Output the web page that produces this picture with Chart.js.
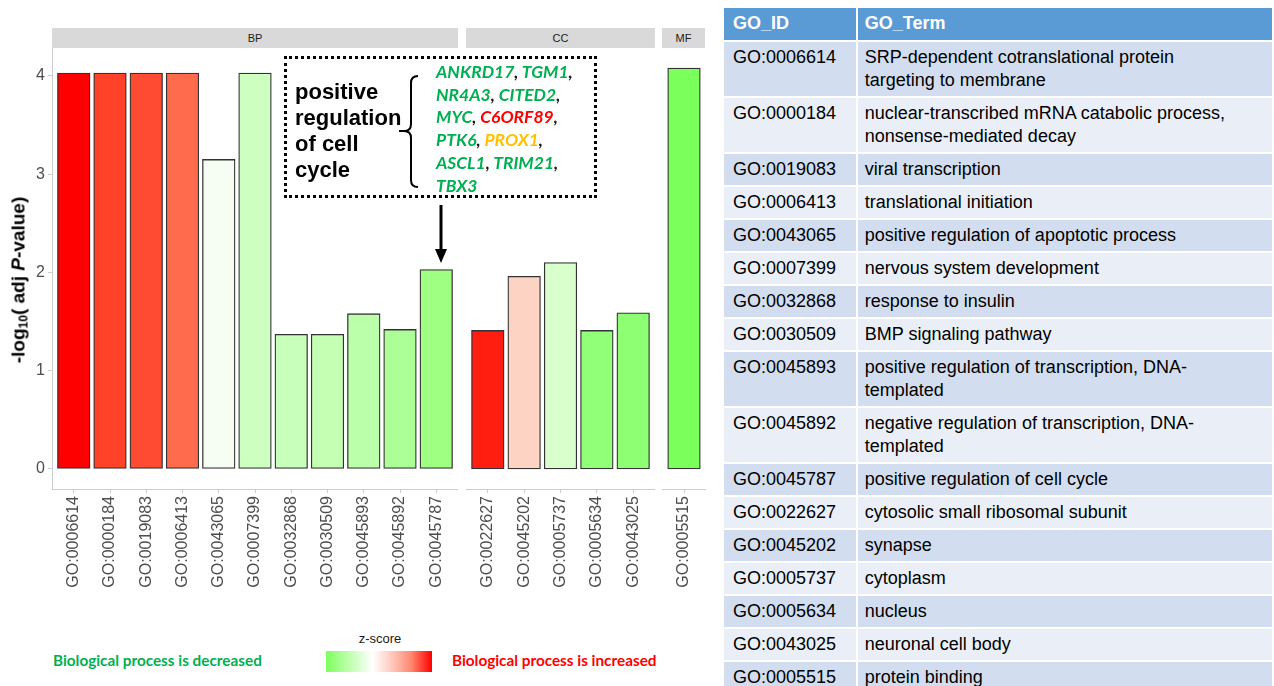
<!DOCTYPE html>
<html>
<head>
<meta charset="utf-8">
<script src="https://cdn.jsdelivr.net/npm/chart.js@4.4.0/dist/chart.umd.min.js"></script>
<style>
  body { margin: 0; width: 1274px; height: 686px; background: #fff; position: relative; overflow: hidden;
         font-family: Arial, "Liberation Sans", sans-serif; }
  .panel { position: absolute; top: 48px; }
  .strip { position: absolute; top: 28px; height: 20px; line-height: 20px; background: #d9d9d9;
           font-size: 11px; color: #1a1a1a; text-align: center; }
  #ytitle { position: absolute; left: 19px; top: 280px; transform: translate(-50%, -50%) rotate(-90deg);
            white-space: nowrap; font-weight: bold; font-size: 19px; color: #000; }
  #ytitle sub { font-size: 12px; vertical-align: -3px; }
  #note { position: absolute; left: 284px; top: 56px; width: 307px; height: 136px; border: 3px dotted #000; }
  #noteTitle { position: absolute; left: 295px; top: 79px; font-weight: bold; font-size: 22px; line-height: 26px; color: #000; }
  #genes { position: absolute; left: 436px; top: 61px; font-family: Lato, sans-serif; font-weight: bold;
           font-style: italic; font-size: 17.5px; line-height: 22.7px; color: #1a1a1a; white-space: nowrap; }
  .g { color: #00b050; } .r { color: #ff0000; } .o { color: #ffc000; }
  .legtext { position: absolute; top: 651px; font-family: Lato, sans-serif; font-weight: bold; font-size: 15.3px;
             white-space: nowrap; }
  #ztitle { position: absolute; left: 380px; top: 631px; transform: translateX(-50%); font-size: 13px; color: #1a1a1a; }
  #zbar { position: absolute; left: 326px; top: 651px; width: 106px; height: 21px;
          background: linear-gradient(to right, #7dff5e 0%, #b9ffa6 20%, #ffffff 44%, #ffc9bd 62%, #ff8a72 80%, #ff0000 100%); }
  table { position: absolute; left: 724px; top: 8px; border-collapse: collapse; font-size: 18px; color: #000; }
  td, th { padding: 4px 8px; line-height: 23px; vertical-align: top; text-align: left; white-space: nowrap;
           border-bottom: 2px solid #fff; border-right: 2px solid #fff; }
  th { background: #5b9bd5; color: #fff; font-weight: bold; height: 24px; }
  tr.d td { background: #d2deef; }
  tr.l td { background: #eaeff7; }
  td.id { width: 121px; padding-left: 9px; }
  td.term { width: 420px; padding-left: 7px; }
</style>
</head>
<body>

<div class="strip" style="left:52px; width:406px;">BP</div>
<div class="strip" style="left:466px; width:189px;">CC</div>
<div class="strip" style="left:662px; width:43px;">MF</div>

<div class="panel" style="left:0px;"><canvas id="bp" width="458" height="552"></canvas></div>
<div class="panel" style="left:466px;"><canvas id="cc" width="189" height="552"></canvas></div>
<div class="panel" style="left:662px;"><canvas id="mf" width="44" height="552"></canvas></div>

<div id="ytitle">-log<sub>10</sub>( adj <i>P</i>-value)</div>

<div id="note"></div>
<div id="noteTitle">positive<br>regulation<br>of cell<br>cycle</div>
<svg style="position:absolute; left:0; top:0;" width="720" height="300">
  <path d="M418,76 Q411,76 411,83 L411,124 Q411,131 404,131 L399,131 M404,131 Q411,131 411,138 L411,180 Q411,187 418,187"
        fill="none" stroke="#000" stroke-width="2"/>
  <line x1="441" y1="205" x2="441" y2="250" stroke="#000" stroke-width="3"/>
  <path d="M435,249 L447,249 L441,263 Z" fill="#000"/>
</svg>
<div id="genes">
  <span class="g">ANKRD17</span>, <span class="g">TGM1</span>,<br>
  <span class="g">NR4A3</span>, <span class="g">CITED2</span>,<br>
  <span class="g">MYC</span>, <span class="r">C6ORF89</span>,<br>
  <span class="g">PTK6</span>, <span class="o">PROX1</span>,<br>
  <span class="g">ASCL1</span>, <span class="g">TRIM21</span>,<br>
  <span class="g">TBX3</span>
</div>

<div class="legtext" style="left:53px; color:#00b050;">Biological process is decreased</div>
<div id="ztitle">z-score</div>
<div id="zbar"></div>
<div class="legtext" style="left:452px; color:#ff0000;">Biological process is increased</div>

<table id="goTable">
  <tr><th style="padding-left:9px;">GO_ID</th><th style="padding-left:7px;">GO_Term</th></tr>
</table>

<script>
    'use strict';

    // BP / CC / MF categories and -log10(adj P) values
    var bpIds = ["GO:0006614", "GO:0000184", "GO:0019083", "GO:0006413", "GO:0043065", "GO:0007399",
                 "GO:0032868", "GO:0030509", "GO:0045893", "GO:0045892", "GO:0045787"];
    var bpValues = [4.03, 4.03, 4.03, 4.03, 3.15, 4.03, 1.37, 1.37, 1.58, 1.42, 2.03];

    var ccIds = ["GO:0022627", "GO:0045202", "GO:0005737", "GO:0005634", "GO:0043025"];
    var ccValues = [1.41, 1.96, 2.10, 1.41, 1.59];

    var mfIds = ["GO:0005515"];
    var mfValues = [4.08];

    var yTicks = [0, 1, 2, 3, 4];

    // fill colours (z-score scale, green = decreased, red = increased)
    var bpColors = ["#ff0000", "#ff4228", "#ff4b31", "#ff6b4d", "#f6fdf3", "#cdffc1",
                    "#c8ffba", "#c4ffb4", "#bcffaa", "#abff96", "#9eff83"];
    var ccColors = ["#ff1e0f", "#fdd3c4", "#d8ffcc", "#92ff78", "#8eff72"];
    var mfColors = ["#7bff5a"];

    var goTermIds = ["GO:0006614", "GO:0000184", "GO:0019083", "GO:0006413", "GO:0043065", "GO:0007399",
                     "GO:0032868", "GO:0030509", "GO:0045893", "GO:0045892", "GO:0045787", "GO:0022627",
                     "GO:0045202", "GO:0005737", "GO:0005634", "GO:0043025", "GO:0005515"];
    var goTermNames = ["SRP-dependent cotranslational protein<br>targeting to membrane",
                       "nuclear-transcribed mRNA catabolic process,<br>nonsense-mediated decay",
                       "viral transcription",
                       "translational initiation",
                       "positive regulation of apoptotic process",
                       "nervous system development",
                       "response to insulin",
                       "BMP signaling pathway",
                       "positive regulation of transcription, DNA-<br>templated",
                       "negative regulation of transcription, DNA-<br>templated",
                       "positive regulation of cell cycle",
                       "cytosolic small ribosomal subunit",
                       "synapse",
                       "cytoplasm",
                       "nucleus",
                       "neuronal cell body",
                       "protein binding"];

    var Y_MIN = -0.204, Y_MAX = 4.284;   // ggplot 5% expansion
    var UNIT = 406 / 11.2;               // px per category
    var X_AXIS_H = 111;
    var AXIS_GREY = '#cccccc';

    var table = document.getElementById('goTable');
    goTermIds.forEach(function (id, i) {
        var tr = document.createElement('tr');
        tr.className = (i % 2 === 0) ? 'd' : 'l';
        tr.innerHTML = '<td class="id">' + id + '</td><td class="term">' + goTermNames[i] + '</td>';
        table.appendChild(tr);
    });

    function makePanel(canvasId, ids, values, colors, showY) {
        var ctx = document.getElementById(canvasId).getContext('2d');
        var n = ids.length;

        return new Chart(ctx, {
            type: 'bar',
            data: {
                datasets: [{
                    data: values.map(function (v, i) { return {x: i, y: v}; }),
                    backgroundColor: colors,
                    borderColor: '#333333',
                    borderWidth: 1.3,
                    borderSkipped: false,
                    barThickness: UNIT * 0.9
                }]
            },
            options: {
                responsive: false,
                animation: false,
                layout: {padding: 0},
                plugins: {legend: {display: false}, tooltip: {enabled: false}},
                scales: {
                    x: {
                        type: 'linear',
                        offset: false,
                        min: -0.6,
                        max: n - 1 + 0.6,
                        afterBuildTicks: function (s) {
                            s.ticks = ids.map(function (_, i) { return {value: i}; });
                        },
                        afterFit: function (s) {
                            s.height = X_AXIS_H;
                            s.paddingLeft = 0;
                            s.paddingRight = 0;
                        },
                        ticks: {
                            autoSkip: false,
                            minRotation: 90,
                            maxRotation: 90,
                            padding: 3,
                            color: '#4d4d4d',
                            font: {family: 'Arial', size: 16},
                            callback: function (v) { return ids[v]; }
                        },
                        grid: {offset: false, drawOnChartArea: false, color: AXIS_GREY, tickLength: 4},
                        border: {color: AXIS_GREY}
                    },
                    y: {
                        display: showY,
                        min: Y_MIN,
                        max: Y_MAX,
                        afterBuildTicks: function (s) {
                            s.ticks = yTicks.map(function (v) { return {value: v}; });
                        },
                        afterFit: function (s) {
                            // only the first panel carries the y axis
                            s.width = showY ? 52 : 0;
                            s.paddingTop = 0;
                            s.paddingBottom = 0;
                        },
                        ticks: {
                            padding: 3,
                            color: '#4d4d4d',
                            font: {family: 'Arial', size: 16}
                        },
                        grid: {drawOnChartArea: false, color: AXIS_GREY, tickLength: 4},
                        border: {color: AXIS_GREY}
                    }
                }
            }
        });
    }

    makePanel('bp', bpIds, bpValues, bpColors, true);
    makePanel('cc', ccIds, ccValues, ccColors, false);
    makePanel('mf', mfIds, mfValues, mfColors, false);
</script>
</body>
</html>
